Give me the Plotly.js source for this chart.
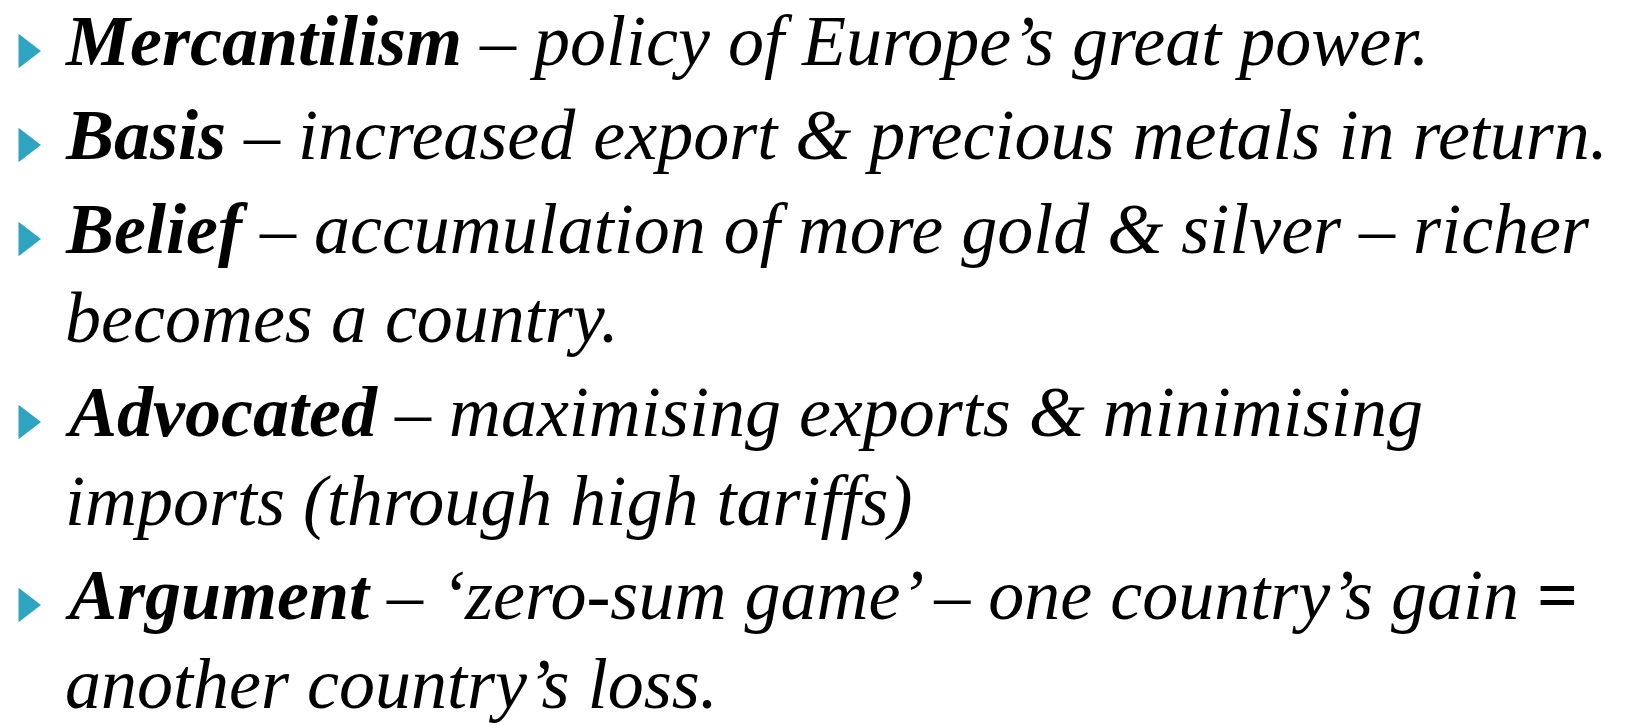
<!DOCTYPE html>
<html>
<head>
<meta charset="utf-8">
<script src="https://cdn.plot.ly/plotly-3.0.1.min.js"></script>
<style>html,body{margin:0;padding:0;background:#fff;}#chart{width:1640px;height:725px;}</style>
</head>
<body>
<div id="chart"></div>
<script>
// Slide content
const terms = ["Mercantilism", "Basis", "Belief", "Advocated", "Argument"];
const descLines = [
  ["policy of Europe’s great power."],
  ["increased export & precious metals in return."],
  ["accumulation of more gold & silver – richer", "becomes a country."],
  ["maximising exports & minimising", "imports (through high tariffs)"],
  ["‘zero-sum game’ – one country’s gain =", "another country’s loss."]
];

// Layout settings (pixel-like coordinates on hidden axes)
const W = 1640, H = 725;
const FONT = "Liberation Serif, Times New Roman, serif";
const FS = 72;
const firstBaseline = 65;
const linePitch = 89;
const paraGap = 5;
const textX = 64;
const bulletX = 26;
const bulletLift = 14;
const baselineOffset = 0.3375 * FS; // center of text box sits this far above baseline

function esc(s){ return s.replace(/&/g,'&amp;').replace(/</g,'&lt;'); }

const annotations = [];
const bx = [], by = [];
let base = firstBaseline;
terms.forEach((term, i) => {
  if (i > 0) base += paraGap;
  descLines[i].forEach((line, j) => {
    if (i > 0 || j > 0) base += linePitch;
    let body = esc(line);
    let html;
    if (body.endsWith(" =")) {
      body = "<i>" + body.slice(0, -2) + " </i><b>=</b>";
    } else {
      body = "<i>" + body + "</i>";
    }
    if (j === 0) {
      html = "<b><i>" + esc(term) + "</i></b><i> – </i>" + body;
      bx.push(bulletX); by.push(base - bulletLift);
    } else {
      html = body;
    }
    annotations.push({
      x: textX, y: base - baselineOffset, xref: 'x', yref: 'y',
      xanchor: 'left', yanchor: 'middle', showarrow: false,
      text: html, align: 'left', borderpad: 0,
      font: {family: FONT, size: FS, color: '#000000'}
    });
  });
});

const data = [{
  type: 'scatter', mode: 'markers', x: bx, y: by,
  marker: {symbol: 'triangle-right', size: 30, color: '#2EA4C1', line: {width: 0}},
  hoverinfo: 'skip', showlegend: false
}];

const layout = {
  width: W, height: H,
  margin: {l: 0, r: 0, t: 0, b: 0, pad: 0},
  paper_bgcolor: '#ffffff', plot_bgcolor: '#ffffff',
  xaxis: {range: [0, W], visible: false, fixedrange: true},
  yaxis: {range: [H, 0], visible: false, fixedrange: true},
  annotations: annotations,
  showlegend: false
};

Plotly.newPlot('chart', data, layout, {staticPlot: true, displayModeBar: false});
</script>
</body>
</html>
